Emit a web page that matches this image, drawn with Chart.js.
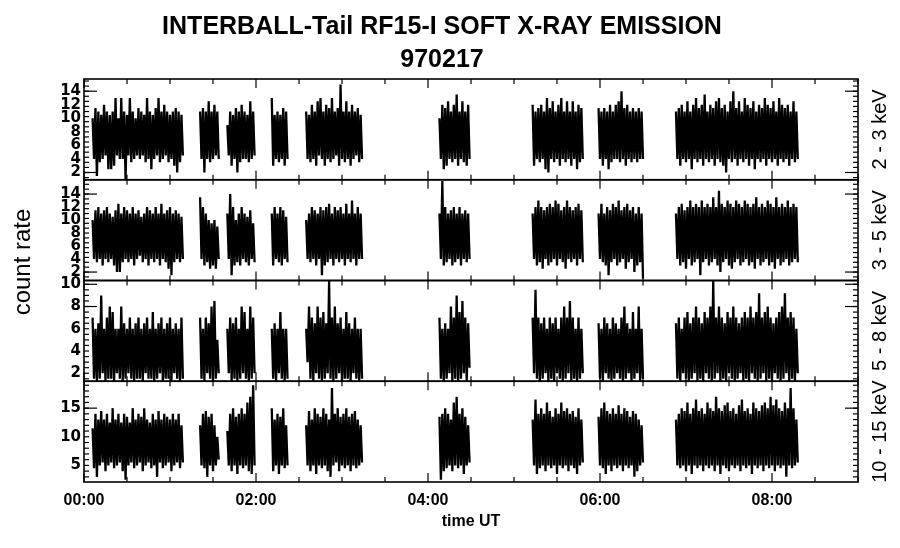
<!DOCTYPE html>
<html>
<head>
<meta charset="utf-8">
<title>INTERBALL-Tail RF15-I soft X-ray emission 970217</title>
<script src="https://cdn.jsdelivr.net/npm/chart.js@4.4.1/dist/chart.umd.min.js"></script>
<style>
  html, body { margin: 0; padding: 0; background: #fff; }
</style>
</head>
<body>
<canvas id="chart" width="900" height="548"></canvas>
<script>
// ── Data (minutes after 00:00 UT) ──
// each segment: pairs of (local max, local min) every 2 minutes
const segStart = [6, 81, 100, 131, 155, 248, 313, 359, 413];
const sampleStep = 2;

const bands = ['2 - 3 keV', '3 - 5 keV', '5 - 8 keV', '10 - 15 keV'];
const yRanges = [[0.93, 15.8], [0.7, 16.2], [1.28, 10.34], [2.1, 19.7]];
const yTicks = [[2, 4, 6, 8, 10, 12, 14], [2, 4, 6, 8, 10, 12, 14], [2, 4, 6, 8, 10], [5, 10, 15]];
const xTicks = [0, 120, 240, 360, 480];
const xLabels = ['00:00', '02:00', '04:00', '06:00', '08:00'];

const hi23 = [
  [10,11.5,11,10.5,12,11,10.5,11,13,10,13,11,10.5,13,11,10,11.5,11,10.5,13,11,10.5,11.5,13,11,12,11,10.5,11,11.5,11,10.5],
  [11,11.5,11,12.5,11,12,11],
  [9,11,10.5,11.5,11,12,11,10.5,12.5,11],
  [13,10.5,11,10.5,11.5,11],
  [11,10.5,12,11,12.5,13,11,12,11.5,13,11,11.5,15,11,12.5,11,12,11,11.5,10.5],
  [10,12,11.5,12.5,11,12,13.5,11,12.5,11,12],
  [12,11,11.5,12,11,13,11.5,12.5,11,12,13,11,12.5,11,12.5,11,12,11.5],
  [11.5,11,11.5,11,12,11,12,12.5,14,11.5,12,11,11.5,11,11.5,11],
  [11,11.5,12,11,12.5,11,12,13,11.5,12,13.5,11,12,11.5,12.5,13,11.5,12,11,12.5,14,11.5,12.5,11,13,12,11.5,12.5,11,12,11.5,13,12,11.5,12.5,11,13,12,11.5,12,11,12.5,11]
];
const lo23 = [
  [4,1.5,3.5,4,4.5,2.5,2.5,3,4.5,4,4,1,4.5,3.5,4,4.5,4,4.5,3.5,4,2.5,4,4.5,3.5,4,4.5,3.5,4,3,2,3.5,4.5],
  [4,2,4,3.5,4,4.5,4],
  [4.5,3,4,2,3.5,4,4,3.5,4,4.5],
  [3,4,3.5,4,3,4],
  [4,3.5,4,3,4.5,4,3,4,3.5,4,4.5,3,4,3.5,4,3,4,4.5,3.5,4],
  [4,2.5,3,4,3.5,4,3,4,3.5,3,4],
  [3,4,3.5,4,2.5,2,4,3.5,4,3,4,3.5,4,3,4,2.5,3.5,4],
  [4,3,4,2.5,3.5,4,4,3.5,4,3,4,3.5,4,3.5,4,4],
  [4,3,4,3.5,4,2.5,4,3.5,4,3,4,3.5,4,3,4,3.5,3,2,4,3.5,4,3,4,3.5,4,3,4,2.5,4,3.5,4,3,4,3.5,4,3,4,3.5,4,3,4,3.5,4]
];

const hi35 = [
  [10,11.5,12,11,11.5,12,11,10.5,11.5,12.5,11,12,11.5,11,12,11,11.5,10.5,11,12,11.5,11,12,11,12.5,11,11.5,12,11,11.5,11,10.5],
  [13.5,12,11,10,9.5,10,9],
  [11,14,12,10,11,12,11,10.5,11.5,9.5],
  [11,12,11,12,11.5,10.5],
  [10,11,12,11.5,11,12,11.5,12,12.5,11,12,11.5,12,11,12.5,11,13,11,12,11],
  [11,16,12,11,11.5,12,11,12,11,11.5,11],
  [11,12,13,12,11.5,12,12.5,12,13,12.5,11.5,12,13,12,11.5,12,12.5,11.5],
  [11,12.5,11,12,11.5,12.5,12,13,11.5,12,12.5,11.5,12,11,12,11],
  [11,12,12.5,11.5,12,13,12,12.5,12,13,12,12.5,12,13.5,12,14.5,12.5,12,13,12.5,12,13,12.5,12,13,12.5,12,12.5,13.5,12,12.5,12,13,12.5,12,13.5,12,12.5,12,13,12,12.5,12]
];
const lo35 = [
  [4,3.5,4,3,4,3.5,4,3,2,2,3.5,4,3.5,4,3,4,4.5,3.5,4,3,4,3.5,4,3,4,3.5,2.5,1.5,3.5,4,3.5,4],
  [4,3,3.5,2.5,3,2.5,4],
  [4,1.5,3,3.5,3,4,3.5,3,4,3.5],
  [3,4,3.5,3,4,3.5],
  [4,3.5,4,3,4,1.5,3,3.5,4,3,4,3.5,4,3,4,3.5,4,3,4,4],
  [4,3,3.5,4,3,3.5,4,3,4,3.5,4],
  [4,3,3.5,2.5,4,3,3.5,4,3,4,3.5,2.5,4,3.5,4,3,4,3.5],
  [4,3.5,3,1.5,3.5,4,3,3.5,4,2.5,3.5,4,2,3,3.5,1],
  [4,3,3.5,2.5,4,3,3.5,4,1.5,3.5,4,3,3.5,4,3,2,3.5,4,3,2.5,3.5,4,3,3.5,4,3,3.5,2.5,4,3,3.5,4,3,3.5,2.5,4,3,3.5,4,3,3.5,4,3.5]
];

const hi58 = [
  [7,6,6.5,9,6,7,8,7.5,6,6,8,6.5,6,7,6,6.5,7,6,6.5,7,6,7.5,6,6.5,7,6,6.5,7,6,6.5,6,7],
  [7,6,7,6.5,8,8.5,5],
  [6,7,6.5,7,6,8,7.5,6,8,7],
  [6,6.5,6,7.5,6,6],
  [6,8,7,6.5,8,7,7.5,6.5,10.3,7,8,6.5,7,6,7.5,6.5,6,7,6,6],
  [7,6,6.5,6,8,7,9,7.5,8.5,7,6.5],
  [7,9.5,7,6.5,7,6,7,6.5,7,6,7,8,7,8.5,7,6,7,6],
  [6.5,6,7,6.5,6,7,6.5,6,7,8,6.5,6,7.5,6,8,6],
  [6.5,7,6,7,7.5,6.5,7,8,7,6.5,7.5,7,8,10.3,7,8,7,6.5,7.5,7,8,7,6.5,7,7.5,7,8,7,7.5,9.2,7,7.5,8,7,6.5,7,7.5,8,9.2,7,7.5,7,6]
];
const lo58 = [
  [1.5,1.3,1.5,2,1.3,1.5,1.5,1.3,2,1.5,1.3,1.5,2,1.5,1.3,1.5,1.5,1.3,2,1.5,1.5,1.3,1.5,2,1.3,1.5,1.5,1.3,2,1.5,1.3,1.5],
  [1.5,1.3,2,1.5,1.3,1.5,2],
  [2,1.3,1.5,1.3,1.5,2,1.5,1.3,1.5,2],
  [1.5,1.3,2,1.5,1.3,1.5],
  [3,1.5,1.3,2,1.5,1.3,1.5,2,1.5,1.3,1.5,2,1.3,1.5,1.5,1.3,2,1.5,1.3,1.5],
  [1.5,1.3,1.5,2,1.3,1.5,1.3,1.5,2,1.3,2.5],
  [2,1.5,1.3,1.5,2,1.3,1.5,1.3,2,1.5,1.3,1.5,2,1.3,1.5,1.3,1.5,2],
  [1.5,1.3,2,1.5,1.3,1.5,2,1.5,1.3,1.5,2,1.3,1.5,2,1.3,1.5],
  [1.5,1.3,2,1.5,1.3,1.5,2,1.3,1.5,1.3,2,1.5,1.3,1.5,2,1.3,1.5,1.3,2,1.5,1.3,1.5,2,1.3,1.5,1.3,2,1.5,1.3,1.5,2,1.3,1.5,1.3,2,1.5,1.3,1.5,2,1.3,1.5,1.3,2]
];

const hi1015 = [
  [11.5,14,13,14.5,13,14,12.5,15,13,14,12.5,14,13.5,12.5,15,13,14,13.5,15,13,12.5,14,13,14.5,13,14,13.5,13,14,13,14,12],
  [12,14,14.5,13.5,14,12,10],
  [11,14,15,13.5,14,15,14,16,17,19],
  [15,13,14,13.5,15,12],
  [12,14.5,13,15,14,13.5,15,14,13,18.5,14,15,13.5,14,15,13.5,14,14.5,13,12],
  [13.5,14,15,14,13,16,17,14,15,13.5,12],
  [13,16.5,14,15,14,16,14.5,13.5,15,14,16,14.5,15,14,14.5,13.5,15,13],
  [13.5,15,16,14.5,14,15,14,15.5,14,15,14.5,13.5,14.5,14,13,12],
  [13,14,15,14.5,16,14,15,16.5,14.5,15,14,16,15,14.5,17,15,14.5,15.5,16,14.5,15,14,15.5,16.5,14.5,15,14,16,15,14.5,15.5,16,15,17,15.5,16.5,15,14.5,16,15,18.5,15,13]
];
const lo1015 = [
  [4.5,3,5,5.5,4,5,5.5,4.5,5,5.5,4,2.5,5,5.5,4.5,5,5.5,4,5,5.5,4.5,5,3,5.5,4.5,5,5.5,4,5,5.5,4.5,5.5],
  [5,4.5,3,5,4,5,6],
  [5,4,5,3.5,5,4.5,5,4,3.5,5],
  [4,5,3.5,5,4.5,5],
  [5,4,5,3.5,5,4.5,5,4,3,5,5.5,4,5,4.5,5,4,5,4.5,5,5.5],
  [2.5,4,4.5,5,4,5,4.5,5,3.5,5,5.5],
  [5,3.5,4.5,5,4,5,4.5,5,3.5,5,4.5,5,4,5,4.5,3.5,5,5.5],
  [5,4.5,3.5,5,4,5,4.5,5,4,5,4.5,5,3,4,5,5.5],
  [5,4.5,5,4,5,3.5,5,4.5,5,4,5,4.5,5,4,5,3.5,5,4.5,4,5,4.5,5,4,5,4.5,5,3.5,5,4.5,5,4,5,4.5,5,4,5,4.5,5,3,5,4.5,5,5.5]
];

const highs = [hi23, hi35, hi58, hi1015];
const lows = [lo23, lo35, lo58, lo1015];
const longTicks = [[2, 14], [2, 14], [8, 10], [15]];
const minorTicks = [[2, 0.75], [2, 0.75], [2, 0.5], [5, 1]];

// max/min pairs -> one zigzag line, gap between segments
function zigzag(hi, lo) {
  const pts = [];
  segStart.forEach((t0, s) => {
    hi[s].forEach((v, i) => {
      pts.push({ x: t0 + sampleStep * i, y: v });
      pts.push({ x: t0 + sampleStep * i + sampleStep / 2, y: lo[s][i] });
    });
    pts.push({ x: t0 + sampleStep * hi[s].length, y: null });
  });
  return pts;
}

const FONT = '"Liberation Sans", Arial, sans-serif';

const scales = {
  x: {
    type: 'linear', min: 0, max: 540,
    afterBuildTicks: s => { s.ticks = xTicks.map(v => ({ value: v })); },
    afterFit: s => { s.height = 66; },
    grid: { display: false, drawTicks: false },
    border: { display: false },
    ticks: {
      autoSkip: false, maxRotation: 0, padding: 9, color: '#000',
      font: { family: FONT, size: 16, weight: 'bold' },
      callback: (v, i) => xLabels[i]
    },
    title: {
      display: true, text: 'time UT', color: '#000',
      font: { family: FONT, size: 16, weight: 'bold' },
      padding: { top: 0, bottom: 17 }
    }
  }
};
bands.forEach((b, k) => {
  scales['y' + k] = {
    type: 'linear', position: 'left', stack: 'panels', stackWeight: 1, weight: 4 - k,
    min: yRanges[k][0], max: yRanges[k][1],
    afterBuildTicks: s => { s.ticks = yTicks[k].map(v => ({ value: v })); },
    afterFit: s => { s.width = 84; },
    grid: { display: false, drawTicks: false },
    border: { display: false },
    ticks: {
      autoSkip: false, padding: 3, color: '#000',
      font: { family: '"DejaVu Sans", sans-serif', size: 15, weight: 'bold' }
    }
  };
});

// frame, inward ticks and the free text around the panels
const panelFrame = {
  id: 'panelFrame',
  afterDatasetsDraw(chart) {
    const { ctx, chartArea: a, scales: sc } = chart;
    const xs = sc.x;
    const seg = (x1, y1, x2, y2) => { ctx.beginPath(); ctx.moveTo(x1, y1); ctx.lineTo(x2, y2); ctx.stroke(); };
    ctx.save();
    ctx.strokeStyle = '#000';
    ctx.fillStyle = '#000';
    bands.forEach((b, k) => {
      const ys = sc['y' + k];
      ctx.lineWidth = 1.2;
      for (let t = 0; t <= 540; t += 30) {
        const px = xs.getPixelForValue(t), len = t % 120 === 0 ? 9 : 5;
        seg(px, ys.top, px, ys.top + len);
        seg(px, ys.bottom, px, ys.bottom - len);
      }
      const [base, step] = minorTicks[k];
      let v = base - step * Math.floor((base - yRanges[k][0]) / step);
      for (; v < yRanges[k][1]; v += step) {
        const py = ys.getPixelForValue(v);
        seg(a.left, py, a.left + 5, py);
        seg(a.right, py, a.right - 5, py);
      }
      longTicks[k].forEach(lv => {
        const py = ys.getPixelForValue(lv);
        seg(a.left, py, a.left + 13, py);
        seg(a.right, py, a.right - 13, py);
      });
      ctx.lineWidth = 1.6;
      ctx.strokeRect(a.left, ys.top, a.right - a.left, ys.bottom - ys.top);

      ctx.save();
      ctx.translate(880, (ys.top + ys.bottom) / 2);
      ctx.rotate(-Math.PI / 2);
      ctx.font = '20px ' + FONT;
      ctx.textAlign = 'center';
      ctx.textBaseline = 'middle';
      ctx.fillText(b, 0, 0);
      ctx.restore();
    });

    ctx.save();
    ctx.translate(23, 262);
    ctx.rotate(-Math.PI / 2);
    ctx.font = '24px ' + FONT;
    ctx.textAlign = 'center';
    ctx.textBaseline = 'middle';
    ctx.fillText('count rate', 0, 0);
    ctx.restore();

    ctx.font = 'bold 25px ' + FONT;
    ctx.textAlign = 'center';
    ctx.textBaseline = 'middle';
    ctx.fillText('INTERBALL-Tail RF15-I SOFT X-RAY EMISSION', 442, 27);
    ctx.fillText('970217', 442, 60);
    ctx.restore();
  }
};

new Chart(document.getElementById('chart'), {
  type: 'line',
  data: {
    datasets: bands.map((b, k) => ({
      label: b,
      data: zigzag(highs[k], lows[k]),
      yAxisID: 'y' + k,
      borderColor: '#000',
      borderWidth: 2.3,
      borderJoinStyle: 'bevel',
      pointRadius: 0,
      tension: 0,
      spanGaps: false
    }))
  },
  options: {
    responsive: false,
    animation: false,
    events: [],
    layout: { padding: { top: 79, right: 42, left: 0, bottom: 0 } },
    plugins: { legend: { display: false }, tooltip: { enabled: false }, title: { display: false } },
    scales
  },
  plugins: [panelFrame]
});
</script>
</body>
</html>
